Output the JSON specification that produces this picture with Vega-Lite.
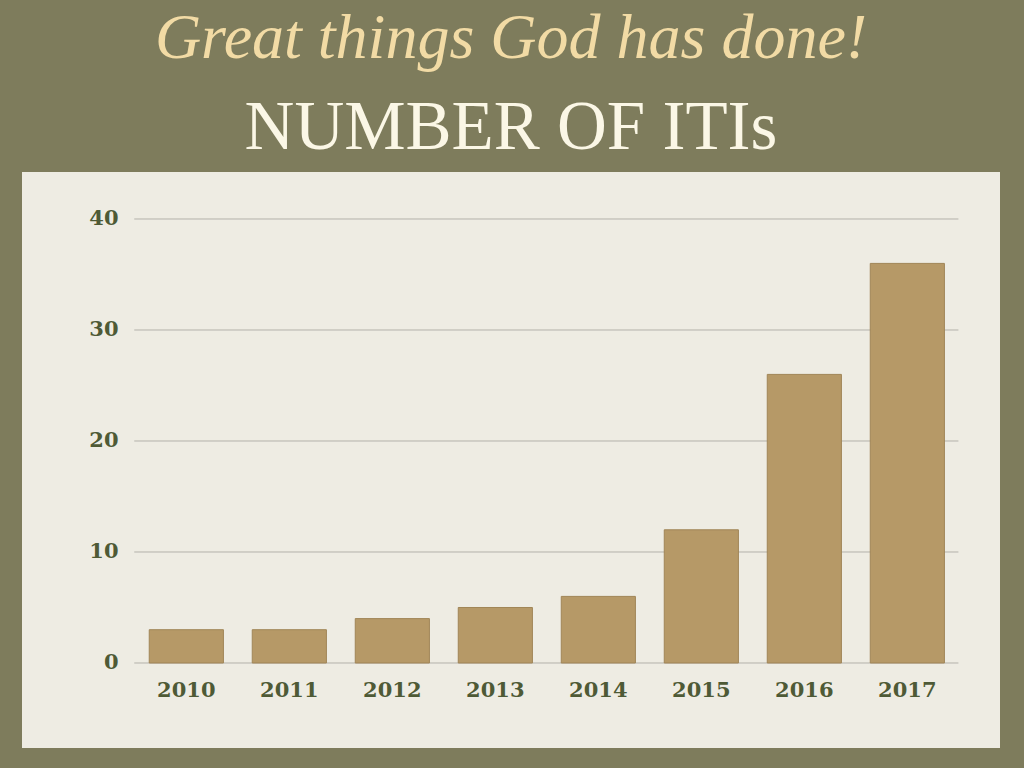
{
  "$schema": "https://vega.github.io/schema/vega-lite/v6.json",
  "autosize": "none",
  "width": 978,
  "height": 576,
  "padding": {"left": 22, "top": 172, "right": 24, "bottom": 20},
  "background": "#7e7c5c",
  "view": {"fill": "#eeece3", "stroke": null},
  "title": {
    "text": "Great things God has done!",
    "subtitle": "NUMBER OF ITIs",
    "anchor": "middle",
    "font": "Liberation Serif",
    "fontStyle": "italic",
    "fontWeight": "normal",
    "fontSize": 64,
    "color": "#f2dba5",
    "subtitleFont": "Liberation Serif",
    "subtitleFontSize": 69,
    "subtitleColor": "#fbf7e6",
    "subtitlePadding": 23,
    "offset": 9
  },
  "datasets": {
    "bars": [
      {"year": "2010", "count": 3},
      {"year": "2011", "count": 3},
      {"year": "2012", "count": 4},
      {"year": "2013", "count": 5},
      {"year": "2014", "count": 6},
      {"year": "2015", "count": 12},
      {"year": "2016", "count": 26},
      {"year": "2017", "count": 36}
    ],
    "grid": [{"v": 0}, {"v": 10}, {"v": 20}, {"v": 30}, {"v": 40}]
  },
  "layer": [
    {
      "data": {"name": "grid"},
      "mark": {"type": "rule", "color": "#b3b2aa", "strokeWidth": 1, "xOffset": -15, "x2Offset": 14},
      "encoding": {
        "y": {"field": "v", "type": "quantitative", "scale": {"domain": [-7.658, 44.234], "nice": false, "zero": false}},
        "x": {"datum": "2010", "type": "nominal", "bandPosition": 0},
        "x2": {"datum": "2017", "bandPosition": 1}
      }
    },
    {
      "data": {"name": "bars"},
      "mark": {"type": "bar", "color": "#b69967", "stroke": "#a08557", "strokeWidth": 1},
      "encoding": {
        "x": {
          "field": "year",
          "type": "nominal",
          "scale": {"paddingInner": 0.28, "paddingOuter": 0.8875, "align": 0.696},
          "axis": {
            "title": null,
            "labelAngle": 0,
            "bandPosition": 0.5,
            "labelAlign": "center",
            "domain": false,
            "ticks": false,
            "offset": -85,
            "labelPadding": 27,
            "labelFont": "DejaVu Serif",
            "labelFontWeight": "bold",
            "labelFontSize": 21,
            "labelColor": "#4e5a36"
          }
        },
        "y": {
          "field": "count",
          "type": "quantitative",
          "axis": {
            "title": null,
            "values": [0, 10, 20, 30, 40],
            "grid": false,
            "domain": false,
            "ticks": false,
            "offset": -113,
            "labelPadding": 17,
            "labelFont": "DejaVu Serif",
            "labelFontWeight": "bold",
            "labelFontSize": 21,
            "labelColor": "#4e5a36"
          }
        },
        "y2": {"datum": 0}
      }
    }
  ]
}
